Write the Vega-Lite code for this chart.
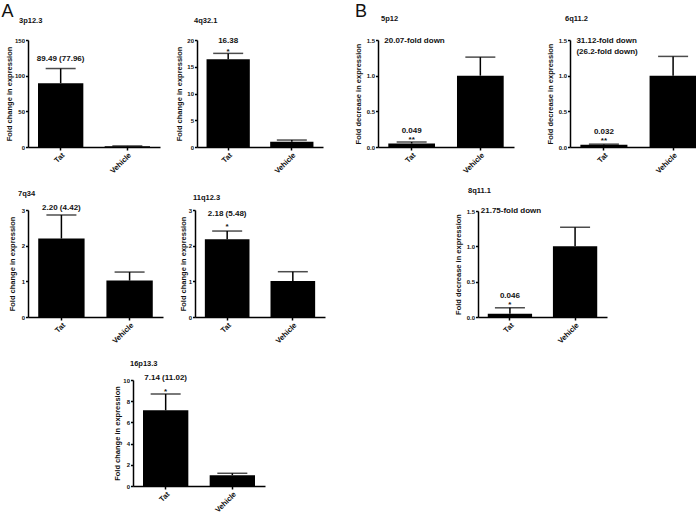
{
  "$schema": "https://vega.github.io/schema/vega-lite/v6.json",
  "background": "white",
  "padding": {"left": 1, "top": 2, "right": 0, "bottom": 0},
  "config": {
    "view": {"stroke": null},
    "font": "Liberation Sans",
    "axis": {"domainColor": "black", "domainWidth": 1.5, "tickColor": "black", "tickWidth": 1.5, "tickSize": 2.5, "labelFont": "Liberation Sans", "labelFontWeight": "bold", "labelFontSize": 6, "labelColor": "#111", "titleFont": "Liberation Sans", "titleFontWeight": "bold", "titleFontSize": 7.5, "titleColor": "#111", "grid": false, "labelPadding": 1, "titlePadding": 1, "labelOverlap": false},
    "axisX": {"labelAngle": -45, "title": null, "labelFontSize": 7.5, "tickSize": 3},
    "title": {"font": "Liberation Sans", "fontSize": 7.5, "fontWeight": "bold", "anchor": "start", "frame": "group", "color": "#111", "offset": 13},
    "text": {"font": "Liberation Sans", "fontWeight": "bold", "fontSize": 8, "color": "#111", "baseline": "middle"}
  },
  "hconcat": [
    {
      "title": {"text": "A", "fontSize": 18, "fontWeight": "normal", "offset": -4, "dx": -4, "frame": "bounds"},
      "spacing": 15,
      "vconcat": [
        {
          "spacing": 15,
          "hconcat": [
            {
              "width": 132, "height": 107, "title": {"text": "3p12.3", "dx": -9},
              "data": {"values": [{"cat": "Tat", "value": 89.49, "err": 110, "label": "89.49 (77.96)", "star": ""}, {"cat": "Vehicle", "value": 1, "err": 1.5, "label": "", "star": ""}]},
              "encoding": {"x": {"field": "cat", "type": "nominal", "sort": null, "scale": {"paddingInner": 0.32, "paddingOuter": 0.15}, "axis": {"title": null}}},
              "layer": [
                {"mark": {"type": "bar", "color": "black"}, "encoding": {"y": {"field": "value", "type": "quantitative", "title": "Fold change in expression", "scale": {"domain": [0, 150], "nice": false}, "axis": {"values": [0, 50, 100, 150]}}}},
                {"mark": {"type": "rule", "color": "black", "strokeWidth": 1.5}, "encoding": {"y": {"field": "value", "type": "quantitative", "title": "Fold change in expression", "axis": {"values": [0, 50, 100, 150]}}, "y2": {"field": "err"}}},
                {"mark": {"type": "tick", "color": "black", "thickness": 1.5, "size": 30}, "encoding": {"y": {"field": "err", "type": "quantitative", "title": "Fold change in expression", "axis": {"values": [0, 50, 100, 150]}}}},
                {"mark": {"type": "text", "dy": -10}, "encoding": {"y": {"field": "err", "type": "quantitative", "title": "Fold change in expression", "axis": {"values": [0, 50, 100, 150]}}, "text": {"field": "label"}}}
              ]
            },
            {
              "width": 126, "height": 107, "title": {"text": "4q32.1", "dx": -3},
              "data": {"values": [{"cat": "Tat", "value": 16.38, "err": 17.5, "label": "16.38", "star": "*"}, {"cat": "Vehicle", "value": 1, "err": 1.3, "label": "", "star": ""}]},
              "encoding": {"x": {"field": "cat", "type": "nominal", "sort": null, "scale": {"paddingInner": 0.32, "paddingOuter": 0.15}, "axis": {"title": null}}},
              "layer": [
                {"mark": {"type": "bar", "color": "black"}, "encoding": {"y": {"field": "value", "type": "quantitative", "title": "Fold change in expression", "scale": {"domain": [0, 20], "nice": false}, "axis": {"values": [0, 5, 10, 15, 20], "minExtent": 13}}}},
                {"mark": {"type": "rule", "color": "black", "strokeWidth": 1.5}, "encoding": {"y": {"field": "value", "type": "quantitative", "title": "Fold change in expression", "axis": {"values": [0, 5, 10, 15, 20], "minExtent": 13}}, "y2": {"field": "err"}}},
                {"mark": {"type": "tick", "color": "black", "thickness": 1.5, "size": 30}, "encoding": {"y": {"field": "err", "type": "quantitative", "title": "Fold change in expression", "axis": {"values": [0, 5, 10, 15, 20], "minExtent": 13}}}},
                {"mark": {"type": "text", "dy": -12}, "encoding": {"y": {"field": "err", "type": "quantitative", "title": "Fold change in expression", "axis": {"values": [0, 5, 10, 15, 20], "minExtent": 13}}, "text": {"field": "label"}}},
                {"mark": {"type": "text", "dy": -1}, "encoding": {"y": {"field": "err", "type": "quantitative", "title": "Fold change in expression", "axis": {"values": [0, 5, 10, 15, 20], "minExtent": 13}}, "text": {"field": "star"}}}
              ]
            }
          ]
        },
        {
          "spacing": 15,
          "vconcat": [
            {
              "spacing": 16,
              "hconcat": [
                {
                  "width": 135, "height": 107, "title": {"text": "7q34", "dx": -10, "offset": 6},
                  "data": {"values": [{"cat": "Tat", "value": 2.2, "err": 2.86, "label": "2.20 (4.42)", "star": ""}, {"cat": "Vehicle", "value": 1.02, "err": 1.26, "label": "", "star": ""}]},
                  "encoding": {"x": {"field": "cat", "type": "nominal", "sort": null, "scale": {"paddingInner": 0.32, "paddingOuter": 0.15}, "axis": {"title": null}}},
                  "layer": [
                    {"mark": {"type": "bar", "color": "black"}, "encoding": {"y": {"field": "value", "type": "quantitative", "title": "Fold change in expression", "scale": {"domain": [0, 3], "nice": false}, "axis": {"values": [0, 1, 2, 3], "minExtent": 11}}}},
                    {"mark": {"type": "rule", "color": "black", "strokeWidth": 1.5}, "encoding": {"y": {"field": "value", "type": "quantitative", "title": "Fold change in expression", "axis": {"values": [0, 1, 2, 3], "minExtent": 11}}, "y2": {"field": "err"}}},
                    {"mark": {"type": "tick", "color": "black", "thickness": 1.5, "size": 30}, "encoding": {"y": {"field": "err", "type": "quantitative", "title": "Fold change in expression", "axis": {"values": [0, 1, 2, 3], "minExtent": 11}}}},
                    {"mark": {"type": "text", "dy": -7}, "encoding": {"y": {"field": "err", "type": "quantitative", "title": "Fold change in expression", "axis": {"values": [0, 1, 2, 3], "minExtent": 11}}, "text": {"field": "label"}}}
                  ]
                },
                {
                  "width": 130, "height": 107, "title": {"text": "11q12.3", "dx": -2, "offset": 6},
                  "data": {"values": [{"cat": "Tat", "value": 2.18, "err": 2.41, "label": "2.18 (5.48)", "star": "*"}, {"cat": "Vehicle", "value": 1.01, "err": 1.27, "label": "", "star": ""}]},
                  "encoding": {"x": {"field": "cat", "type": "nominal", "sort": null, "scale": {"paddingInner": 0.32, "paddingOuter": 0.15}, "axis": {"title": null}}},
                  "layer": [
                    {"mark": {"type": "bar", "color": "black"}, "encoding": {"y": {"field": "value", "type": "quantitative", "title": "Fold change in expression", "scale": {"domain": [0, 3], "nice": false}, "axis": {"values": [0, 1, 2, 3], "minExtent": 7}}}},
                    {"mark": {"type": "rule", "color": "black", "strokeWidth": 1.5}, "encoding": {"y": {"field": "value", "type": "quantitative", "title": "Fold change in expression", "axis": {"values": [0, 1, 2, 3], "minExtent": 7}}, "y2": {"field": "err"}}},
                    {"mark": {"type": "tick", "color": "black", "thickness": 1.5, "size": 30}, "encoding": {"y": {"field": "err", "type": "quantitative", "title": "Fold change in expression", "axis": {"values": [0, 1, 2, 3], "minExtent": 7}}}},
                    {"mark": {"type": "text", "dy": -17}, "encoding": {"y": {"field": "err", "type": "quantitative", "title": "Fold change in expression", "axis": {"values": [0, 1, 2, 3], "minExtent": 7}}, "text": {"field": "label"}}},
                    {"mark": {"type": "text", "dy": -4}, "encoding": {"y": {"field": "err", "type": "quantitative", "title": "Fold change in expression", "axis": {"values": [0, 1, 2, 3], "minExtent": 7}}, "text": {"field": "star"}}}
                  ]
                }
              ]
            },
            {
              "spacing": 15,
              "hconcat": [
                {
                  "width": 70, "height": 10,
                  "data": {"values": [{"t": ""}]},
                  "mark": {"type": "text"},
                  "encoding": {"text": {"field": "t"}}
                },
                {
                  "width": 132, "height": 106, "title": {"text": "16p13.3", "dx": -3, "offset": 6},
                  "data": {"values": [{"cat": "Tat", "value": 7.14, "err": 8.68, "label": "7.14 (11.02)", "star": "*"}, {"cat": "Vehicle", "value": 1.02, "err": 1.2, "label": "", "star": ""}]},
                  "encoding": {"x": {"field": "cat", "type": "nominal", "sort": null, "scale": {"paddingInner": 0.32, "paddingOuter": 0.15}, "axis": {"title": null}}},
                  "layer": [
                    {"mark": {"type": "bar", "color": "black"}, "encoding": {"y": {"field": "value", "type": "quantitative", "title": "Fold change in expression", "scale": {"domain": [0, 10], "nice": false}, "axis": {"values": [0, 2, 4, 6, 8, 10], "minExtent": 10}}}},
                    {"mark": {"type": "rule", "color": "black", "strokeWidth": 1.5}, "encoding": {"y": {"field": "value", "type": "quantitative", "title": "Fold change in expression", "axis": {"values": [0, 2, 4, 6, 8, 10], "minExtent": 10}}, "y2": {"field": "err"}}},
                    {"mark": {"type": "tick", "color": "black", "thickness": 1.5, "size": 30}, "encoding": {"y": {"field": "err", "type": "quantitative", "title": "Fold change in expression", "axis": {"values": [0, 2, 4, 6, 8, 10], "minExtent": 10}}}},
                    {"mark": {"type": "text", "dy": -16}, "encoding": {"y": {"field": "err", "type": "quantitative", "title": "Fold change in expression", "axis": {"values": [0, 2, 4, 6, 8, 10], "minExtent": 10}}, "text": {"field": "label"}}},
                    {"mark": {"type": "text", "dy": -2}, "encoding": {"y": {"field": "err", "type": "quantitative", "title": "Fold change in expression", "axis": {"values": [0, 2, 4, 6, 8, 10], "minExtent": 10}}, "text": {"field": "star"}}}
                  ]
                }
              ]
            }
          ]
        }
      ]
    },
    {
      "title": {"text": "B", "fontSize": 18, "fontWeight": "normal", "offset": -6, "dx": 1, "frame": "bounds"},
      "spacing": 11,
      "center": true,
      "vconcat": [
        {
          "spacing": 32,
          "hconcat": [
            {
              "width": 136, "height": 107, "title": {"text": "5p12", "offset": 15, "dx": 3},
              "data": {"values": [{"cat": "Tat", "value": 0.049, "err": 0.07, "label": "0.049", "star": "**", "note": "20.07-fold down"}, {"cat": "Vehicle", "value": 1, "err": 1.26, "label": "", "star": ""}]},
              "encoding": {"x": {"field": "cat", "type": "nominal", "sort": null, "scale": {"paddingInner": 0.32, "paddingOuter": 0.15}, "axis": {"title": null}}},
              "layer": [
                {"mark": {"type": "bar", "color": "black"}, "encoding": {"y": {"field": "value", "type": "quantitative", "title": "Fold decrease in expression", "scale": {"domain": [0, 1.5], "nice": false}, "axis": {"values": [0, 0.5, 1, 1.5], "format": ".1f", "minExtent": 15}}}},
                {"mark": {"type": "rule", "color": "black", "strokeWidth": 1.5}, "encoding": {"y": {"field": "value", "type": "quantitative", "title": "Fold decrease in expression", "axis": {"values": [0, 0.5, 1, 1.5], "format": ".1f", "minExtent": 15}}, "y2": {"field": "err"}}},
                {"mark": {"type": "tick", "color": "black", "thickness": 1.5, "size": 30}, "encoding": {"y": {"field": "err", "type": "quantitative", "title": "Fold decrease in expression", "axis": {"values": [0, 0.5, 1, 1.5], "format": ".1f", "minExtent": 15}}}},
                {"mark": {"type": "text", "dy": -11}, "encoding": {"y": {"field": "err", "type": "quantitative", "title": "Fold decrease in expression", "axis": {"values": [0, 0.5, 1, 1.5], "format": ".1f", "minExtent": 15}}, "text": {"field": "label"}}},
                {"mark": {"type": "text", "dy": -2}, "encoding": {"y": {"field": "err", "type": "quantitative", "title": "Fold decrease in expression", "axis": {"values": [0, 0.5, 1, 1.5], "format": ".1f", "minExtent": 15}}, "text": {"field": "star"}}},
                {"transform": [{"filter": "datum.note != null"}], "mark": {"type": "text", "align": "left", "dx": -4, "dy": 1}, "encoding": {"x": {"field": "cat", "type": "nominal", "bandPosition": 0}, "y": {"datum": 1.5, "type": "quantitative", "title": "Fold decrease in expression", "axis": {"values": [0, 0.5, 1, 1.5], "format": ".1f", "minExtent": 15}}, "text": {"field": "note"}}}
              ]
            },
            {
              "width": 137, "height": 107, "title": {"text": "6q11.2", "offset": 15, "dx": -5},
              "data": {"values": [{"cat": "Tat", "value": 0.032, "err": 0.04, "label": "0.032", "star": "**", "note": ["31.12-fold down", "(26.2-fold down)"]}, {"cat": "Vehicle", "value": 1, "err": 1.27, "label": "", "star": ""}]},
              "encoding": {"x": {"field": "cat", "type": "nominal", "sort": null, "scale": {"paddingInner": 0.32, "paddingOuter": 0.15}, "axis": {"title": null}}},
              "layer": [
                {"mark": {"type": "bar", "color": "black"}, "encoding": {"y": {"field": "value", "type": "quantitative", "title": "Fold decrease in expression", "scale": {"domain": [0, 1.5], "nice": false}, "axis": {"values": [0, 0.5, 1, 1.5], "format": ".1f", "minExtent": 15}}}},
                {"mark": {"type": "rule", "color": "black", "strokeWidth": 1.5}, "encoding": {"y": {"field": "value", "type": "quantitative", "title": "Fold decrease in expression", "axis": {"values": [0, 0.5, 1, 1.5], "format": ".1f", "minExtent": 15}}, "y2": {"field": "err"}}},
                {"mark": {"type": "tick", "color": "black", "thickness": 1.5, "size": 30}, "encoding": {"y": {"field": "err", "type": "quantitative", "title": "Fold decrease in expression", "axis": {"values": [0, 0.5, 1, 1.5], "format": ".1f", "minExtent": 15}}}},
                {"mark": {"type": "text", "dy": -12}, "encoding": {"y": {"field": "err", "type": "quantitative", "title": "Fold decrease in expression", "axis": {"values": [0, 0.5, 1, 1.5], "format": ".1f", "minExtent": 15}}, "text": {"field": "label"}}},
                {"mark": {"type": "text", "dy": -3}, "encoding": {"y": {"field": "err", "type": "quantitative", "title": "Fold decrease in expression", "axis": {"values": [0, 0.5, 1, 1.5], "format": ".1f", "minExtent": 15}}, "text": {"field": "star"}}},
                {"transform": [{"filter": "datum.note != null"}], "mark": {"type": "text", "align": "left", "dx": -4, "dy": 1, "lineHeight": 11}, "encoding": {"x": {"field": "cat", "type": "nominal", "bandPosition": 0}, "y": {"datum": 1.5, "type": "quantitative", "title": "Fold decrease in expression", "axis": {"values": [0, 0.5, 1, 1.5], "format": ".1f", "minExtent": 15}}, "text": {"field": "note"}}}
              ]
            }
          ]
        },
        {
          "width": 129, "height": 106, "title": {"text": "8q11.1", "offset": 13, "dx": -10},
          "data": {"values": [{"cat": "Tat", "value": 0.046, "err": 0.13, "label": "0.046", "star": "*", "note": "21.75-fold down"}, {"cat": "Vehicle", "value": 1, "err": 1.27, "label": "", "star": ""}]},
          "encoding": {"x": {"field": "cat", "type": "nominal", "sort": null, "scale": {"paddingInner": 0.32, "paddingOuter": 0.15}, "axis": {"title": null}}},
          "layer": [
            {"mark": {"type": "bar", "color": "black"}, "encoding": {"y": {"field": "value", "type": "quantitative", "title": "Fold decrease in expression", "scale": {"domain": [0, 1.5], "nice": false}, "axis": {"values": [0, 0.5, 1, 1.5], "format": ".1f", "minExtent": 15}}}},
            {"mark": {"type": "rule", "color": "black", "strokeWidth": 1.5}, "encoding": {"y": {"field": "value", "type": "quantitative", "title": "Fold decrease in expression", "axis": {"values": [0, 0.5, 1, 1.5], "format": ".1f", "minExtent": 15}}, "y2": {"field": "err"}}},
            {"mark": {"type": "tick", "color": "black", "thickness": 1.5, "size": 30}, "encoding": {"y": {"field": "err", "type": "quantitative", "title": "Fold decrease in expression", "axis": {"values": [0, 0.5, 1, 1.5], "format": ".1f", "minExtent": 15}}}},
            {"mark": {"type": "text", "dy": -12}, "encoding": {"y": {"field": "err", "type": "quantitative", "title": "Fold decrease in expression", "axis": {"values": [0, 0.5, 1, 1.5], "format": ".1f", "minExtent": 15}}, "text": {"field": "label"}}},
            {"mark": {"type": "text", "dy": -3}, "encoding": {"y": {"field": "err", "type": "quantitative", "title": "Fold decrease in expression", "axis": {"values": [0, 0.5, 1, 1.5], "format": ".1f", "minExtent": 15}}, "text": {"field": "star"}}},
            {"transform": [{"filter": "datum.note != null"}], "mark": {"type": "text", "align": "left", "dx": -7, "dy": 0}, "encoding": {"x": {"field": "cat", "type": "nominal", "bandPosition": 0}, "y": {"datum": 1.5, "type": "quantitative", "title": "Fold decrease in expression", "axis": {"values": [0, 0.5, 1, 1.5], "format": ".1f", "minExtent": 15}}, "text": {"field": "note"}}}
          ]
        }
      ]
    }
  ],
  "spacing": 29
}
